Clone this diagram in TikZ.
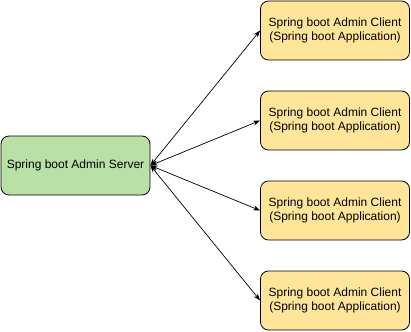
\documentclass[tikz,border=0pt]{standalone}
\usepackage{fontspec}
\setmainfont{Liberation Sans}
\usetikzlibrary{arrows.meta}
\definecolor{srvgreen}{HTML}{B9E0A5}
\definecolor{cltyellow}{HTML}{FFE599}
\tikzset{
  every picture/.style={line join=round, >={Stealth[length=7pt,width=5pt]}},
  box/.style={draw, line width=0.8pt, rounded corners=8pt, minimum width=149pt,
    minimum height=59pt, align=center, inner sep=0pt, font=\fontsize{12}{14}\selectfont},
  server/.style={box, fill=srvgreen},
  client/.style={box, fill=cltyellow},
  link/.style={<->, line width=0.7pt},
}

\begin{document}
\begin{tikzpicture}[x=1pt,y=-1pt]
\useasboundingbox (0,0) rectangle (411,331);
% admin server on the left
\node[server] (srv) at (75.5,165.5) {Spring boot Admin Server};
% registered clients
\node[client] (c1) at (335,30.5) {Spring boot Admin Client\\(Spring boot Application)};
\node[client] (c2) at (335,120.5) {Spring boot Admin Client\\(Spring boot Application)};
\node[client] (c3) at (335,210.5) {Spring boot Admin Client\\(Spring boot Application)};
\node[client] (c4) at (335,300.5) {Spring boot Admin Client\\(Spring boot Application)};
\draw[link] (srv.east)--(c1.west);
\draw[link] (srv.east)--(c2.west);
\draw[link] (srv.east)--(c3.west);
\draw[link] (srv.east)--(c4.west);
\end{tikzpicture}
\end{document}
